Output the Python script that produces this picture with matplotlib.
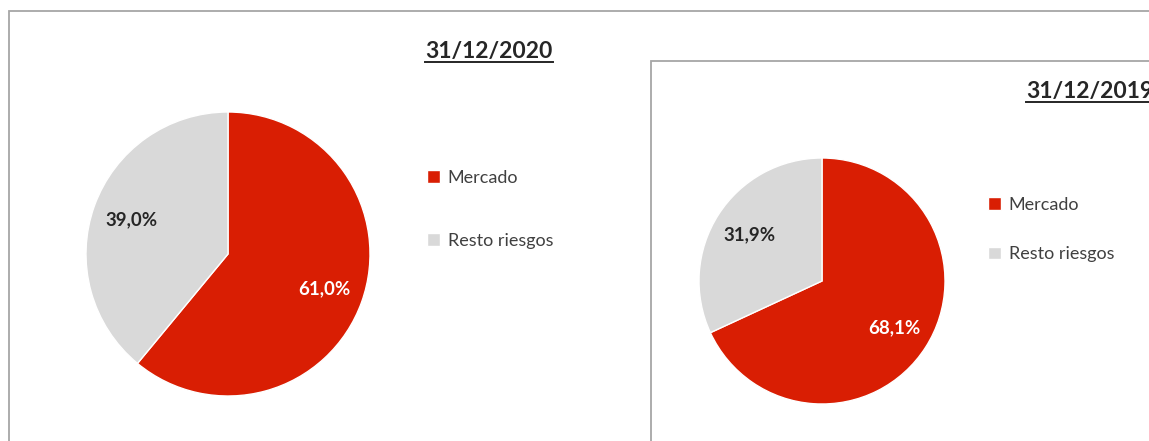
import matplotlib
matplotlib.use('Agg')
import matplotlib.pyplot as plt
from matplotlib.patches import Rectangle
from matplotlib.lines import Line2D

plt.rcParams['font.family'] = ['Lato', 'DejaVu Sans']

# data
categories = ['Mercado', 'Resto riesgos']
values_2020 = [61.0, 39.0]
values_2019 = [68.1, 31.9]
titles = ['31/12/2020', '31/12/2019']

colors = ['#D91E03', '#D9D9D9']
label_colors = ['white', '#262626']

W, H = 1149, 441
fig = plt.figure(figsize=(W / 100, H / 100), dpi=100)


def px_box(cx, cy, r):
    # axes rect in figure fraction from pixel centre / radius
    return [(cx - r) / W, (H - cy - r) / H, 2 * r / W, 2 * r / H]


# panel borders
for x0, y0 in [(9, 11), (651, 61)]:
    fig.patches.append(Rectangle((x0 / W, -0.2), 1.5, 1.2 - y0 / H,
                                 transform=fig.transFigure, fill=False,
                                 edgecolor='#A6A6A6', linewidth=1.3))


def draw_pie(vals, cx, cy, r, pctdist, leg_xy, leg_space):
    ax = fig.add_axes(px_box(cx, cy, r))
    wedges, texts, autotexts = ax.pie(
        vals, colors=colors, startangle=90, counterclock=False,
        autopct=lambda p: f'{p:.1f}%'.replace('.', ','),
        pctdistance=pctdist,
        wedgeprops=dict(linewidth=1.0, edgecolor='white'),
        textprops=dict(fontsize=13.5, fontweight='bold'))
    for t, c in zip(autotexts, label_colors):
        t.set_color(c)
    ax.set_xlim(-1, 1)
    ax.set_ylim(-1, 1)
    ax.legend(wedges, categories, loc='upper left',
              bbox_to_anchor=(leg_xy[0] / W, 1 - leg_xy[1] / H),
              bbox_transform=fig.transFigure, frameon=False,
              fontsize=13, handlelength=0.7, handleheight=0.7,
              handletextpad=0.45, labelspacing=leg_space,
              labelcolor='#404040', borderpad=0, borderaxespad=0)
    return ax


draw_pie(values_2020, 228, 254, 142, 0.72, (427, 170), 2.6)
draw_pie(values_2019, 822, 281, 123, 0.7, (988, 197), 1.85)

t1 = fig.text(489 / W, 1 - 58 / H, titles[0], ha='center', va='baseline',
              fontsize=16.5, fontweight='bold', color='#262626')
t2 = fig.text(1026 / W, 1 - 98 / H, titles[1], ha='left', va='baseline',
              fontsize=16.5, fontweight='bold', color='#262626')

# underline the titles
fig.canvas.draw()
r = fig.canvas.get_renderer()
for t, y in [(t1, 62), (t2, 102)]:
    bb = t.get_window_extent(r)
    fig.add_artist(Line2D([bb.x0 / W, bb.x1 / W], [1 - y / H, 1 - y / H],
                          transform=fig.transFigure, color='#262626',
                          linewidth=1.4))

fig.savefig('out.png', dpi=100, facecolor='white')
